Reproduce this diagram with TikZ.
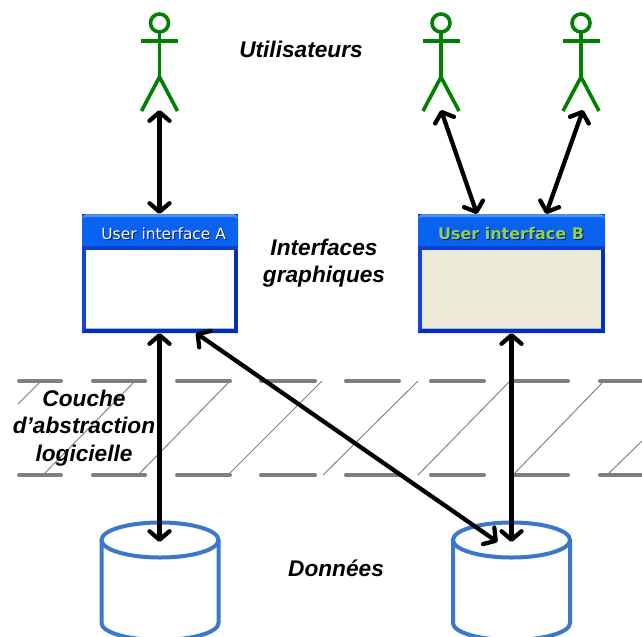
\documentclass[tikz,border=0pt]{standalone}
\usepackage{fontspec}
\setmainfont{Liberation Sans}
\newfontfamily\uifont{DejaVu Sans}
\usetikzlibrary{arrows.meta,calc}
\definecolor{actorgreen}{HTML}{008000}
\definecolor{dbblue}{HTML}{3B78C9}
\definecolor{hatch}{HTML}{7F7F7F}
\definecolor{winleft}{HTML}{1244D8}
\definecolor{windark}{HTML}{0530B4}
\definecolor{wintop}{HTML}{0A62F0}
\definecolor{winlight}{HTML}{4A90F0}
\definecolor{winband}{HTML}{0A3FD0}
\definecolor{bodytan}{HTML}{ECE9D8}
\definecolor{limegreen}{HTML}{92D050}
\definecolor{shadowblue}{HTML}{001A70}
\tikzset{
  dashline/.style={hatch,line width=3pt,line cap=round},
  hatchline/.style={hatch,line width=0.7pt},
  link/.style={black,line width=3.2pt,{Straight Barb[length=6.5pt,width=15pt,round]}-{Straight Barb[length=6.5pt,width=15pt,round]}},
  actorline/.style={actorgreen,line width=2.7pt},
  dbline/.style={dbblue,line width=3pt},
  layerlabel/.style={font=\fontsize{17pt}{20.6pt}\selectfont\bfseries\itshape,align=center,inner sep=0pt},
  winbox/.style={minimum height=89.25pt,inner sep=0pt,outer sep=0pt},
  anchorpoint/.style={inner sep=0pt,minimum size=0pt,outer sep=0pt},
}
\newcommand{\uiframe}[2]{%
  \fill[winleft] (#1.north west) rectangle (#1.south east);
  \fill[windark] ($(#1.north east)+(-4,30)$) rectangle (#1.south east);
  \fill[windark] (#1.south west) -- ($(#1.south west)+(4,-5)$) -- ($(#1.south east)+(-4,-5)$) -- (#1.south east) -- cycle;
  \fill[#2] ($(#1.north west)+(4,36)$) rectangle ($(#1.south east)+(-4,-5)$);
  \draw[winlight!60!white,line width=0.5pt] ($(#1.south west)+(4,-5)$) -- ($(#1.south east)+(-4,-5)$);
  \fill[wintop]
    ($(#1.north west)+(0,33)$) -- ($(#1.north west)+(0,5)$)
    arc[start angle=180,end angle=270,radius=5] -- ($(#1.north east)+(-5,0)$)
    arc[start angle=270,end angle=360,radius=5] -- ($(#1.north east)+(0,33)$) -- cycle;
  \fill[winlight] ($(#1.north west)+(0,5)$)
    arc[start angle=180,end angle=270,radius=5] -- ($(#1.north east)+(-5,0)$)
    arc[start angle=270,end angle=360,radius=5] -- ($(#1.north east)+(-3,3)$) -- ($(#1.north west)+(3,3)$) -- cycle;
  \fill[winband] ($(#1.north west)+(0,32)$) rectangle ($(#1.north east)+(0,36)$);
}
\newcommand{\actorfig}[2]{%
  \draw[actorline] (#1,23) circle[radius=9];
  \draw[actorline] (#1,32) -- (#1,77);
  \draw[actorline] (#1-18.5,41) -- (#1+18.5,41);
  \draw[actorline] (#1-18,111) -- (#1,77) -- (#1+18,111);
  \node[anchorpoint] (#2) at (#1,110) {};
}
\newcommand{\dbfig}[2]{%
  \draw[dbline] (#1-58.5,540) -- (#1-58.5,623) arc[start angle=180,end angle=360,x radius=58.5,y radius=-17] -- (#1+58.5,540);
  \draw[dbline,fill=white] (#1,540) ellipse[x radius=58.5,y radius=17.5];
  \node[anchorpoint] (#2) at (#1,542) {};
}
\begin{document}
\begin{tikzpicture}[x=0.75pt,y=-0.75pt]
\clip (0,0) rectangle (642,636);
\fill[white] (0,0) rectangle (642,636);
% hatched layer
\foreach \a/\b in {19/61,93/145,177/230,261/315,346/399,431/484,515/568,600/650}{
  \draw[dashline] (\a,381) -- (\b,381);
  \draw[dashline] (\a,475) -- (\b,475);
}
\foreach \a/\ay/\b/\by in {18/404/41/381,43/475/135/381,138/475/230/381,228/475/322/381,323/475/418/381,418/475/510/381,513/475/604/381,607/475/642/441}{
  \draw[hatchline] (\a,\ay) -- (\b,\by);
}
% cylinders
\dbfig{160}{dbA}
\dbfig{511.5}{dbB}
% actors
\actorfig{159.5}{actorA}
\actorfig{441}{actorB}
\actorfig{581}{actorC}
% windows
\node[winbox,minimum width=117pt] (uiA) at (160,273.5) {};
\node[winbox,minimum width=140.25pt] (uiB) at (511.5,273.5) {};
\uiframe{uiA}{white}
\uiframe{uiB}{bodytan}
\node[font=\uifont\fontsize{11.6pt}{14pt}\selectfont,shadowblue,inner sep=0pt] at (164.7,234.3) {User interface A};
\node[font=\uifont\fontsize{11.6pt}{14pt}\selectfont,white,inner sep=0pt] (titleA) at (163.7,233.3) {User interface A};
\node[font=\uifont\bfseries\fontsize{12pt}{14pt}\selectfont,shadowblue,inner sep=0pt] at (512,234.3) {User interface B};
\node[font=\uifont\bfseries\fontsize{12pt}{14pt}\selectfont,limegreen,inner sep=0pt] (titleB) at (511,233.3) {User interface B};
% labels
\node[layerlabel] (lblUsers) at (301,49) {Utilisateurs};
\node[layerlabel] (lblUI) at (324,263) {Interfaces\\graphiques};
\node[layerlabel] (lblLayer) at (84,428) {Couche\\d’abstraction\\logicielle};
\node[layerlabel] (lblData) at (336,568) {Données};
% connectors
\draw[link] (actorA) -- ($(uiA.north)+(-0.5,0)$);
\draw[link] (actorB) -- ($(uiB.north)+(-34.5,0)$);
\draw[link] ($(actorC)+(2,0)$) -- ($(uiB.north)+(34.5,0)$);
\draw[link] ($(uiA.south)+(-0.5,0)$) -- ($(dbA)+(-0.5,0)$);
\draw[link] ($(uiA.south)+(36,0)$) -- ($(dbB)+(-14,0)$);
\draw[link] (uiB.south) -- (dbB);
\end{tikzpicture}
\end{document}
